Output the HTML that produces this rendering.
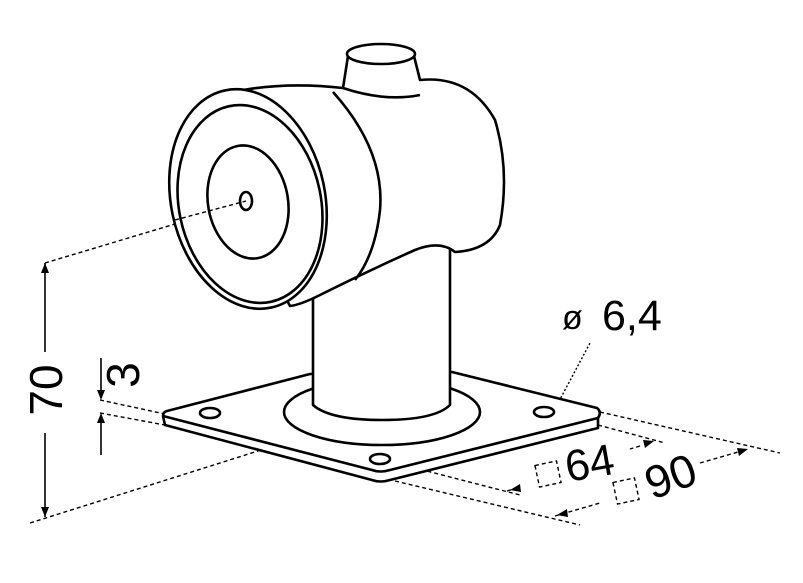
<!DOCTYPE html>
<html><head><meta charset="utf-8"><style>
html,body{margin:0;padding:0;background:#fff;}
svg{display:block}
text{font-family:"Liberation Sans",sans-serif;fill:#000}
</style></head><body>
<svg width="803" height="583" viewBox="0 0 803 583" xmlns="http://www.w3.org/2000/svg">
<g fill="none" stroke="#000" stroke-width="1.4" stroke-dasharray="4,3">
<line x1="45" y1="263" x2="245" y2="203"/>
<line x1="30" y1="523" x2="315" y2="433"/>
<line x1="100" y1="400" x2="165" y2="414"/>
<line x1="100" y1="413" x2="165" y2="425"/>
<line x1="600" y1="412" x2="780" y2="453"/>
<line x1="598" y1="425" x2="665" y2="443"/>
<line x1="545" y1="412" x2="598" y2="420"/>
<line x1="380" y1="459" x2="520" y2="495"/>
<line x1="395" y1="481" x2="580" y2="525"/>
<line x1="507" y1="491" x2="520" y2="487"/>
<line x1="640" y1="446" x2="630" y2="449"/>
<line x1="555" y1="516" x2="600" y2="503"/>
<line x1="700" y1="463" x2="745" y2="450"/>
<line x1="557" y1="405" x2="590" y2="343" stroke-dasharray="2,2"/>
<rect x="537" y="463" width="22" height="22" transform="rotate(-12 548 474)"/>
<rect x="615" y="480" width="22" height="22" transform="rotate(-12 626 491)"/>
</g>
<g fill="#000" stroke="none">
<polygon points="510,490 520,484 521,492"/>
<polygon points="654,441 643,440 645,448"/>
<polygon points="557,515 567,509 568,517"/>
<polygon points="748,449 737,448 739,456"/>
<polygon points="45,263 41,273 49,273"/>
<polygon points="45,517 41,507 49,507"/>
<polygon points="101,400 97,390 105,390"/>
<polygon points="101,413 97,423 105,423"/>
</g>
<g fill="none" stroke="#000" stroke-width="1.6">
<line x1="45" y1="263" x2="45" y2="352"/>
<line x1="45" y1="433" x2="45" y2="517"/>
<line x1="101" y1="358" x2="101" y2="398"/>
<line x1="101" y1="415" x2="101" y2="455"/>
</g>
<g fill="#fff" stroke="#000" stroke-width="2.6" stroke-linejoin="round">
<path d="M167,411 L310,374 L452,372 L597,408 Q602,412 598,418 L598,428 L390,480 Q380,483 372,480 L165,425 L163,416 Q163,412 167,411 Z"/>
<path d="M163,416 L372,470 Q380,473 390,470 L598,418" fill="none"/>
<ellipse cx="210" cy="413" rx="10" ry="5"/>
<ellipse cx="544" cy="412" rx="10" ry="5"/>
<ellipse cx="380" cy="459" rx="10" ry="5"/>
<ellipse cx="382" cy="412" rx="98" ry="33"/>
<path d="M313,250 L313,405 Q330,420 382,420 Q435,420 450,405 L450,240 Z"/>
<path d="M243,90 Q290,82 343,88 L348,56 L414,56 L420,80 Q470,75 495,120 Q510,170 500,225 Q490,250 455,252 Q440,240 415,250 Q370,270 320,295 Q300,305 290,306 L260,250 Z"/>
<path d="M343,88 Q385,102 420,95" fill="none"/>
<ellipse cx="381" cy="54" rx="34" ry="10"/>
<path d="M333,92 Q385,150 380,210 Q375,255 355,280" fill="none"/>
<ellipse cx="248" cy="199" rx="77" ry="111" transform="rotate(-12 248 199)"/>
<ellipse cx="250" cy="204" rx="71" ry="100" transform="rotate(-12 250 204)"/>
<ellipse cx="248" cy="202" rx="40" ry="57" transform="rotate(-10 248 202)"/>
<ellipse cx="246" cy="201" rx="6" ry="9"/>
</g>
<g fill="none" stroke="#000" stroke-width="1.4" stroke-dasharray="4,3">
<line x1="175" y1="220" x2="246" y2="201"/>
</g>
<text x="0" y="0" font-size="46" transform="translate(62,390) rotate(-90)" text-anchor="middle">70</text>
<text x="0" y="0" font-size="46" transform="translate(139,375) rotate(-90)" text-anchor="middle">3</text>
<text x="562" y="329" font-size="34">ø</text>
<text x="602" y="330" font-size="43">6,4</text>
<text x="0" y="0" font-size="44" transform="translate(568,482) rotate(-10)">64</text>
<text x="0" y="0" font-size="46" transform="translate(652,500) rotate(-20)">90</text>
</svg>
</body></html>
